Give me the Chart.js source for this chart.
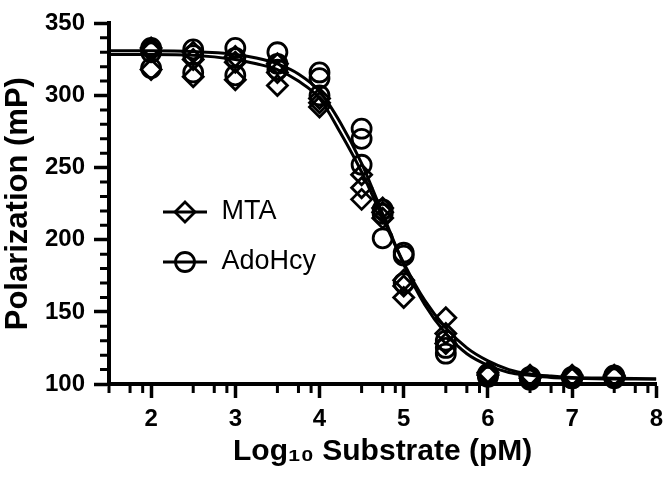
<!DOCTYPE html>
<html><head><meta charset="utf-8">
<script src="https://cdn.jsdelivr.net/npm/chart.js@4/dist/chart.umd.min.js"></script>
<style>html,body{margin:0;padding:0;background:#fff;}canvas{display:block;}</style>
</head><body>
<canvas id="c" width="670" height="480"></canvas>
<script>
// ---- data ----
const logConc = [2, 2.5, 3, 3.5, 4, 4.5, 4.75, 5, 5.5, 6, 6.5, 7, 7.5];
const mtaRepA = [333, 330, 327, 322, 298, 245, 222, 172, 146, 108, 106, 106, 106];
const mtaRepB = [331, 325, 323, 316, 295, 236, 219, 168, 135, 107, 105, 105, 105];
const mtaRepC = [318, 313, 311, 307, 292, 228, 215, 160, 128, 106, 104, 104, 105];
const adoRepA = [333, 332, 333, 330, 316, 277, 221, 191, 130, 107, 105, 105, 106];
const adoRepB = [330, 328, 326, 322, 312, 270, 218, 189, 125, 106, 104, 104, 105];
const adoRepC = [319, 316, 314, 318, 300, 252, 201, 170, 121, 105, 103, 104, 104];

const fitX   = [1.5, 2, 2.5, 3, 3.25, 3.5, 3.75, 4, 4.25, 4.5, 4.75, 5, 5.25, 5.5, 5.75, 6, 6.25, 6.5, 6.75, 7, 7.5, 8];
const mtaFit = [328.5, 328.5, 328, 325, 322, 318, 310, 298, 274, 247, 215, 184, 158, 139, 125, 116, 110, 107, 105.5, 104.5, 104, 103.5];
const adoFit = [331, 331, 330.5, 328.5, 326, 322, 315, 303, 281, 253, 218, 183, 155, 135, 121, 113, 108, 106, 104.5, 104, 103.5, 103.5];

const seriesNames = ['MTA', 'AdoHcy'];
const xMajorTicks = [2, 3, 4, 5, 6, 7, 8];
const xMinorTicks = [1.5, 1.75, 1.9, 2.5, 2.75, 2.9, 3.5, 3.75, 3.9, 4.5, 4.75, 4.9, 5.5, 5.75, 5.9, 6.5, 6.75, 6.9, 7.5, 7.75, 7.9];
const yMajorTicks = [100, 150, 200, 250, 300, 350];
const yMinorTicks = [110, 120, 130, 140, 160, 170, 180, 190, 210, 220, 230, 240, 260, 270, 280, 290, 310, 320, 330, 340];
const xTitle = 'Log\u2081\u2080 Substrate (pM)';
const yTitle = 'Polarization (mP)';

// ---- helpers ----
function toPoints(xs, ...series) {
  const pts = [];
  series.forEach(s => s.forEach((v, i) => pts.push({x: xs[i], y: v})));
  return pts;
}
function legendIcon(kind) {
  const c = document.createElement('canvas');
  c.width = 44; c.height = 28;
  const g = c.getContext('2d');
  g.strokeStyle = '#000'; g.lineWidth = 2.8;
  g.beginPath(); g.moveTo(0, 14); g.lineTo(44, 14); g.stroke();
  g.beginPath();
  if (kind === 'diamond') {
    g.moveTo(12, 14); g.lineTo(22, 4); g.lineTo(32, 14); g.lineTo(22, 24); g.closePath();
  } else {
    g.arc(22, 14, 9.5, 0, Math.PI * 2);
  }
  g.stroke();
  return c;
}
const icons = [legendIcon('diamond'), legendIcon('circle')];

Chart.defaults.font.family = "'Liberation Sans', Arial, sans-serif";
Chart.defaults.color = '#000';

const extras = {
  id: 'extras',
  beforeDraw(chart) {
    const lg = chart.legend;
    if (!lg) return;
    const pad = lg.options.labels.padding;
    const fs = lg.options.labels.font.size;
    lg.left = 162 - pad;
    lg.top = 212 - pad - fs / 2;
    lg.right = lg.left + 300;
    lg.bottom = lg.top + 200;
  },
  afterDraw(chart) {
    const {ctx, chartArea, scales} = chart;
    ctx.save();
    ctx.strokeStyle = '#000';
    ctx.lineWidth = 3;
    ctx.beginPath();
    xMinorTicks.forEach(v => {
      const px = scales.x.getPixelForValue(v);
      ctx.moveTo(px, chartArea.bottom); ctx.lineTo(px, chartArea.bottom + 9);
    });
    yMinorTicks.forEach(v => {
      const py = scales.y.getPixelForValue(v);
      ctx.moveTo(chartArea.left, py); ctx.lineTo(chartArea.left - 9, py);
    });
    ctx.stroke();
    ctx.restore();
  }
};

new Chart(document.getElementById('c'), {
  type: 'scatter',
  data: {
    datasets: [
      {label: seriesNames[0] + ' fit', data: toPoints(fitX, mtaFit), showLine: true, pointRadius: 0,
       borderColor: '#000', borderWidth: 3, cubicInterpolationMode: 'monotone', fill: false},
      {label: seriesNames[1] + ' fit', data: toPoints(fitX, adoFit), showLine: true, pointRadius: 0,
       borderColor: '#000', borderWidth: 3, cubicInterpolationMode: 'monotone', fill: false},
      {label: seriesNames[0], data: toPoints(logConc, mtaRepA, mtaRepB, mtaRepC), pointStyle: 'rectRot',
       pointRadius: 10, pointBorderWidth: 2.8, pointBorderColor: '#000', pointBackgroundColor: 'rgba(0,0,0,0)', clip: false},
      {label: seriesNames[1], data: toPoints(logConc, adoRepA, adoRepB, adoRepC), pointStyle: 'circle',
       pointRadius: 9.5, pointBorderWidth: 2.8, pointBorderColor: '#000', pointBackgroundColor: 'rgba(0,0,0,0)', clip: false}
    ]
  },
  options: {
    responsive: false,
    animation: false,
    events: [],
    layout: {padding: {top: 15, right: 10, left: 0, bottom: 0}},
    plugins: {
      tooltip: {enabled: false},
      legend: {
        position: 'chartArea',
        align: 'start',
        labels: {
          usePointStyle: true,
          pointStyleWidth: 46,
          padding: 23,
          color: '#000',
          font: {size: 27},
          generateLabels: () => seriesNames.map((n, i) => ({
            text: n, pointStyle: icons[i], fillStyle: 'rgba(0,0,0,0)', strokeStyle: '#000',
            lineWidth: 0, hidden: false, datasetIndex: i + 2, fontColor: '#000'
          }))
        }
      }
    },
    scales: {
      x: {
        type: 'linear', min: 1.5, max: 8,
        afterBuildTicks: s => { s.ticks = xMajorTicks.map(v => ({value: v})); },
        afterFit: s => { s.height = 96; },
        ticks: {color: '#000', font: {size: 24, weight: 'bold'}, padding: 7, autoSkip: false, maxRotation: 0},
        grid: {drawOnChartArea: false, tickLength: 14, tickWidth: 3.5, tickColor: '#000', color: '#000'},
        border: {display: true, color: '#000', width: 4},
        title: {display: true, text: xTitle, color: '#000', font: {size: 30, weight: 'bold'}, padding: {top: 10, bottom: 10}}
      },
      y: {
        type: 'linear', min: 100, max: 350,
        afterBuildTicks: s => { s.ticks = yMajorTicks.map(v => ({value: v})); },
        afterFit: s => { s.width = 109; },
        ticks: {color: '#000', font: {size: 24, weight: 'bold'}, padding: 9},
        grid: {drawOnChartArea: false, tickLength: 15, tickWidth: 3.5, tickColor: '#000', color: '#000'},
        border: {display: true, color: '#000', width: 4},
        title: {display: true, text: yTitle, color: '#000', font: {size: 31, weight: 'bold'}, padding: {top: 0, bottom: 0}}
      }
    }
  },
  plugins: [extras]
});
</script>
</body></html>
